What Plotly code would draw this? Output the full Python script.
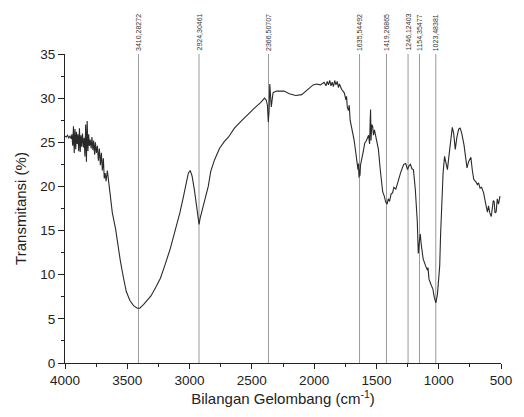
import plotly.graph_objects as go

wavenumber = [
    4000, 3990, 3980, 3970, 3960, 3950, 3945, 3938, 3932, 3926, 3920, 3914, 3908, 3902,
    3896, 3890, 3884, 3878, 3872, 3866, 3860, 3852, 3846, 3840, 3834, 3828, 3822, 3816,
    3810, 3804, 3798, 3790, 3784, 3776, 3770, 3762, 3756, 3748, 3740, 3732, 3724, 3716,
    3708, 3700, 3692, 3685, 3678, 3670, 3660, 3648, 3640, 3620, 3594, 3575, 3555, 3530,
    3508, 3480, 3450, 3420, 3400, 3370, 3340, 3310, 3270, 3234, 3200, 3156, 3120, 3078,
    3050, 3023, 3010, 2995, 2980, 2960, 2945, 2930, 2924, 2915, 2900, 2890, 2870, 2850,
    2830, 2800, 2760, 2720, 2687, 2640, 2578, 2530, 2477, 2430, 2398, 2385, 2375, 2368,
    2362, 2356, 2350, 2344, 2338, 2330, 2320, 2300, 2270, 2242, 2200, 2148, 2100, 2062,
    2030, 2008, 1980, 1950, 1920, 1905, 1895, 1885, 1875, 1865, 1855, 1845, 1835, 1825,
    1815, 1805, 1797, 1780, 1758, 1745, 1740, 1734, 1725, 1718, 1711, 1700, 1690, 1680,
    1670, 1656, 1648, 1644, 1640, 1636, 1632, 1628, 1617, 1605, 1594, 1580, 1563, 1555,
    1550, 1547, 1543, 1538, 1530, 1524, 1516, 1500, 1484, 1470, 1461, 1450, 1437, 1425,
    1414, 1405, 1395, 1383, 1370, 1360, 1344, 1330, 1305, 1281, 1265, 1250, 1240, 1227,
    1215, 1203, 1188, 1172, 1164, 1155, 1148, 1141, 1133, 1125, 1105, 1090, 1086, 1078,
    1060, 1047, 1035, 1023, 1010, 1000, 992, 985, 977, 965, 953, 945, 930, 915, 900, 891,
    880, 867, 855, 840, 828, 815, 797, 785, 773, 760, 742, 730, 719, 700, 690, 680, 668,
    656, 640, 625, 615, 609, 600, 590, 578, 570, 562, 555, 548, 539, 530, 520, 508,
]
transmitansi = [
    25.7, 25.6, 25.8, 25.5, 25.7, 25.4, 25.9, 24.6, 26.8, 23.8, 26.5, 24.2, 26.2, 24.8,
    25.9, 24.0, 26.6, 23.9, 25.8, 24.5, 26.0, 24.4, 25.5, 23.4, 27.0, 22.8, 27.4, 24.0,
    25.9, 24.6, 25.3, 24.3, 25.6, 24.1, 25.2, 23.6, 25.0, 23.8, 24.6, 22.9, 24.3, 22.4,
    23.8, 21.8, 23.2, 20.9, 21.5, 20.6, 21.8, 20.5, 19.2, 17.0, 15.2, 13.2, 11.5, 9.6,
    8.1, 7.1, 6.5, 6.2, 6.2, 6.6, 7.1, 7.6, 8.6, 9.6, 11.0, 12.9, 14.8, 17.0,
    18.8, 20.4, 21.5, 21.8, 21.2, 19.5, 17.8, 16.2, 15.7, 16.4, 17.4, 17.8, 18.9, 20.0,
    21.7, 23.0, 24.3, 25.1, 25.6, 26.6, 27.5, 28.2, 28.9, 29.5, 30.0, 29.8, 29.2, 27.3,
    28.5, 31.6, 30.2, 29.0, 29.7, 30.6, 30.7, 30.8, 30.8, 30.8, 30.5, 30.3, 30.4, 30.9,
    31.3, 31.5, 31.6, 31.5, 31.8, 31.4, 31.9, 31.5, 32.0, 31.4, 31.8, 31.3, 32.0, 31.5,
    31.9, 31.2, 31.6, 31.0, 30.6, 29.8, 30.2, 29.0, 28.6, 29.2, 27.5, 26.8, 26.0, 25.3,
    24.3, 23.0, 21.9, 22.6, 21.0, 21.9, 21.2, 22.4, 23.4, 24.0, 24.9, 25.2, 25.8, 24.8,
    27.5, 28.7, 25.2, 27.0, 26.8, 25.8, 26.4, 25.3, 24.2, 22.0, 20.4, 19.4, 18.9, 18.2,
    18.0, 18.6, 18.3, 19.1, 19.3, 19.9, 19.7, 20.5, 21.6, 22.5, 22.6, 21.9, 22.3, 22.5,
    22.0, 21.9, 19.7, 16.0, 12.4, 13.8, 14.6, 13.5, 12.6, 11.8, 11.0, 10.5, 10.8, 9.5,
    8.8, 8.4, 7.4, 6.8, 7.8, 9.5, 11.0, 14.5, 18.5, 21.5, 23.4, 22.8, 21.9, 23.8, 26.0, 26.7,
    26.0, 24.2, 25.5, 26.5, 26.6, 26.0, 24.7, 23.2, 22.1, 22.8, 23.3, 21.8, 20.8, 20.5, 20.2, 20.4, 19.8,
    19.9, 19.3, 18.2, 17.5, 17.1, 17.8, 17.0, 16.6, 17.6, 18.4, 18.3, 17.0, 17.1, 18.6, 18.0, 18.9,
]

peak_positions = [3410.28272, 2924.30461, 2366.50707, 1635.54492, 1419.26865,
                  1246.12403, 1154.35477, 1023.48381]
peak_labels = ["3410,28272", "2924,30461", "2366,50707", "1635,54492", "1419,26865",
               "1246,12403", "1154,35477", "1023,48381"]

FONT = "Liberation Sans, Arial, sans-serif"

fig = go.Figure()
fig.add_trace(go.Scatter(x=wavenumber, y=transmitansi, mode="lines",
                         line=dict(color="#2a2a2a", width=1.1), showlegend=False))

for p, lab in zip(peak_positions, peak_labels):
    fig.add_shape(type="line", x0=p, x1=p, y0=0, y1=35, xref="x", yref="y",
                  line=dict(color="#9a9a9a", width=1), layer="below")
    fig.add_annotation(x=p, y=1, xref="x", yref="paper", text=lab, showarrow=False,
                       textangle=-90, xanchor="center", yanchor="bottom", yshift=1,
                       font=dict(family=FONT, size=7, color="#333"))

fig.update_layout(
    width=524, height=417,
    margin=dict(l=65, r=12, t=54, b=52),
    paper_bgcolor="white", plot_bgcolor="white",
    font=dict(family=FONT, color="#222"),
    xaxis=dict(range=[4000, 500], tickmode="array",
               tickvals=[4000, 3500, 3000, 2500, 2000, 1500, 1000, 500],
               showgrid=False, zeroline=False, showline=True, linecolor="#222", linewidth=1,
               ticks="outside", ticklen=5, tickcolor="#222",
               minor=dict(ticks="outside", dtick=250, ticklen=3, tickcolor="#222", showgrid=False),
               tickfont=dict(size=13.5, family=FONT, color="#222"),
               title=dict(text="Bilangan Gelombang (cm<sup>-1</sup>)", standoff=6,
                          font=dict(size=15, family=FONT, color="#222"))),
    yaxis=dict(range=[0, 35], dtick=5, showgrid=False, zeroline=False,
               showline=True, linecolor="#222", linewidth=1,
               ticks="outside", ticklen=6, tickcolor="#222",
               minor=dict(ticks="outside", dtick=2.5, ticklen=3, tickcolor="#222", showgrid=False),
               tickfont=dict(size=13.5, family=FONT, color="#222"),
               title=dict(text="Transmitansi (%)", standoff=10,
                          font=dict(size=15, family=FONT, color="#222"))),
)

fig.write_html("out.html")
